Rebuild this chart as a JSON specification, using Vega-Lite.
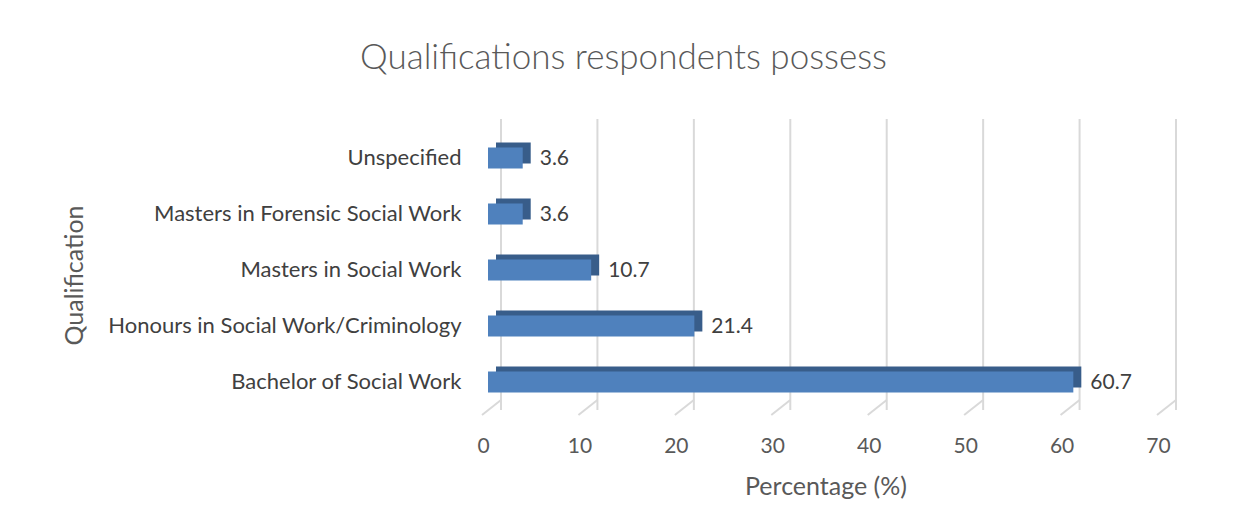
{
  "$schema": "https://vega.github.io/schema/vega-lite/v6.json",
  "autosize": "none",
  "width": 675,
  "height": 280,
  "padding": {"left": 488, "top": 130, "right": 73, "bottom": 122},
  "background": "white",
  "config": {
    "font": "Lato",
    "view": {"stroke": null},
    "axis": {"labelColor": "#595959", "titleColor": "#595959", "labelFont": "Lato", "titleFont": "Lato", "titleFontWeight": "normal", "grid": false, "ticks": false, "domain": false}
  },
  "title": {
    "text": "Qualifications respondents possess",
    "fontSize": 35,
    "fontWeight": 300,
    "color": "#595959",
    "font": "Lato",
    "anchor": "middle",
    "dx": -202,
    "offset": 42
  },
  "datasets": {
    "bars": [
      {"qualification": "Unspecified", "percentage": 3.6},
      {"qualification": "Masters in Forensic Social Work", "percentage": 3.6},
      {"qualification": "Masters in Social Work", "percentage": 10.7},
      {"qualification": "Honours in Social Work/Criminology\u00a0", "percentage": 21.4},
      {"qualification": "Bachelor of Social Work", "percentage": 60.7}
    ],
    "grid": [
      {"tick": 0}, {"tick": 10}, {"tick": 20}, {"tick": 30}, {"tick": 40}, {"tick": 50}, {"tick": 60}, {"tick": 70}
    ]
  },
  "layer": [
    {
      "data": {"name": "grid"},
      "mark": {"type": "rule", "color": "#d9d9d9", "strokeWidth": 2, "xOffset": 13, "yOffset": -11, "y2Offset": -10},
      "encoding": {
        "x": {"field": "tick", "type": "quantitative"}
      }
    },
    {
      "data": {"name": "grid"},
      "mark": {"type": "rule", "color": "#d9d9d9", "strokeWidth": 2, "xOffset": 13, "x2Offset": -6, "yOffset": 18, "y2Offset": 33},
      "encoding": {
        "x": {"field": "tick", "type": "quantitative"},
        "x2": {"field": "tick"},
        "y": {"datum": "Bachelor of Social Work", "type": "nominal"},
        "y2": {"datum": "Bachelor of Social Work"}
      }
    },
    {
      "data": {"name": "bars"},
      "layer": [
        {
          "mark": {"type": "bar", "color": "#385d8a", "xOffset": 8, "x2Offset": 8, "yOffset": -5, "y2Offset": -5},
          "encoding": {
            "x": {"field": "percentage", "type": "quantitative"},
            "y": {"field": "qualification", "type": "nominal"}
          }
        },
        {
          "mark": {"type": "bar", "color": "#4f81bd"},
          "encoding": {
            "x": {"field": "percentage", "type": "quantitative"},
            "y": {"field": "qualification", "type": "nominal"}
          }
        },
        {
          "mark": {"type": "text", "align": "left", "baseline": "middle", "dx": 17, "dy": 1, "fontSize": 21, "color": "#404040", "font": "Lato"},
          "encoding": {
            "x": {"field": "percentage", "type": "quantitative"},
            "y": {"field": "qualification", "type": "nominal"},
            "text": {"field": "percentage", "type": "quantitative", "format": ".1f"}
          }
        }
      ]
    }
  ],
  "encoding": {
    "x": {
      "type": "quantitative",
      "scale": {"domain": [0, 70], "nice": false, "zero": true},
      "axis": {"values": [0, 10, 20, 30, 40, 50, 60, 70], "title": "Percentage (%)", "labelFontSize": 21, "labelFlush": false, "labelOffset": -5, "labelPadding": 25, "titleFontSize": 25, "titlePadding": 18}
    },
    "y": {
      "type": "nominal",
      "sort": ["Unspecified", "Masters in Forensic Social Work", "Masters in Social Work", "Honours in Social Work/Criminology\u00a0", "Bachelor of Social Work"],
      "scale": {"paddingInner": 0.625, "paddingOuter": 0.3125},
      "axis": {"title": "Qualification", "labelFontSize": 22, "labelLimit": 400, "labelPadding": 27, "labelColor": "#404040", "titleFontSize": 25, "titleX": -414, "titleY": 145, "titleAngle": 270, "titleAlign": "center", "titleBaseline": "middle"}
    }
  }
}
